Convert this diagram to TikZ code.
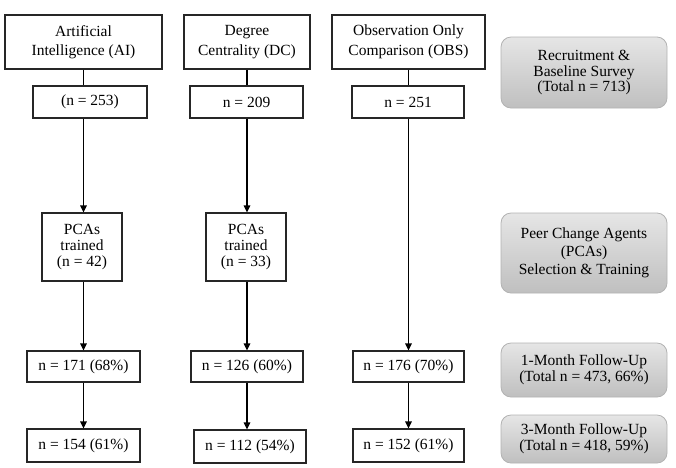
\documentclass[tikz,border=0pt]{standalone}
\usepackage{fontspec}
\setmainfont{Liberation Serif}
\usetikzlibrary{arrows.meta}
\begin{document}
\begin{tikzpicture}[x=1pt,y=-1pt,
  font=\fontsize{15.5}{19.5}\selectfont,
  wbox/.style={draw=black!85, line width=1.1pt, fill=white, align=center, inner sep=0pt, rectangle},
  tight/.style={font=\fontsize{15.5}{16}\selectfont},
  gbox/.style={draw=black!30, line width=0.8pt, rounded corners=10pt, align=center, inner sep=0pt,
    top color=black!10, bottom color=black!25},
  conn/.style={line width=1.1pt, draw=black},
  arr/.style={conn, -{Triangle[length=7pt,width=6.5pt]}}]
\useasboundingbox (0,0) rectangle (676,467);
% column AI
\node[wbox, minimum width=157pt, minimum height=54pt] (ai) at (83.5,42) {Artificial\\Intelligence (AI)};
\node[wbox, minimum width=114pt, minimum height=32pt] (n253) at (90,102) {(n = 253)};
\node[wbox, tight, minimum width=80pt, minimum height=68pt] (pai) at (82,247) {PCAs\\trained\\(n = 42)};
\node[wbox, minimum width=113pt, minimum height=31pt] (n171) at (83.5,366.5) {n = 171 (68\%)};
\node[wbox, minimum width=113pt, minimum height=33pt] (n154) at (83.5,445.5) {n = 154 (61\%)};
% column DC
\node[wbox, minimum width=126pt, minimum height=54pt] (dc) at (247,42) {Degree\\Centrality (DC)};
\node[wbox, minimum width=113pt, minimum height=32pt] (n209) at (246.5,102) {n = 209};
\node[wbox, tight, minimum width=80pt, minimum height=68pt] (pdc) at (246,247) {PCAs\\trained\\(n = 33)};
\node[wbox, minimum width=112pt, minimum height=31pt] (n126) at (247,366.5) {n = 126 (60\%)};
\node[wbox, minimum width=112pt, minimum height=33pt] (n112) at (250,446.5) {n = 112 (54\%)};
% column OBS
\node[wbox, minimum width=153pt, minimum height=54pt] (obs) at (408.5,42) {Observation Only\\Comparison (OBS)};
\node[wbox, minimum width=112pt, minimum height=32pt] (n251) at (408,102) {n = 251};
\node[wbox, minimum width=111pt, minimum height=31pt] (n176) at (408.5,366.5) {n = 176 (70\%)};
\node[wbox, minimum width=111pt, minimum height=33pt] (n152) at (408.5,445.5) {n = 152 (61\%)};
% gray stage boxes
\node[gbox, font=\fontsize{15.5}{15.5}\selectfont, minimum width=166pt, minimum height=71pt] (s1) at (584,72.5) {Recruitment \&\\Baseline Survey\\(Total n = 713)};
\node[gbox, font=\fontsize{15.5}{18}\selectfont, minimum width=166pt, minimum height=80pt] (s2) at (584,253) {Peer Change Agents\\(PCAs)\\Selection \& Training};
\node[gbox, font=\fontsize{15.5}{16}\selectfont, minimum width=166pt, minimum height=54pt] (s3) at (584,370) {1-Month Follow-Up\\(Total n = 473, 66\%)};
\node[gbox, font=\fontsize{15.5}{15.5}\selectfont, minimum width=166pt, minimum height=48pt] (s4) at (584,439) {3-Month Follow-Up\\(Total n = 418, 59\%)};
% connectors AI
\draw[conn] (ai.south) -- (ai.south |- n253.north);
\draw[arr] (ai.south |- n253.south) -- (ai.south |- pai.north);
\draw[arr] (ai.south |- pai.south) -- (ai.south |- n171.north);
\draw[arr] (n171.south) -- (n154.north);
% connectors DC
\draw[conn] (dc.south) -- (dc.south |- n209.north);
\draw[arr] (dc.south |- n209.south) -- (dc.south |- pdc.north);
\draw[arr] (dc.south |- pdc.south) -- (n126.north);
\draw[arr] (n126.south) -- ([xshift=-3pt]n112.north);
% connectors OBS
\draw[conn] (obs.south) -- (obs.south |- n251.north);
\draw[arr] (obs.south |- n251.south) -- (obs.south |- n176.north);
\draw[arr] (n176.south) -- (n152.north);
\end{tikzpicture}
\end{document}
